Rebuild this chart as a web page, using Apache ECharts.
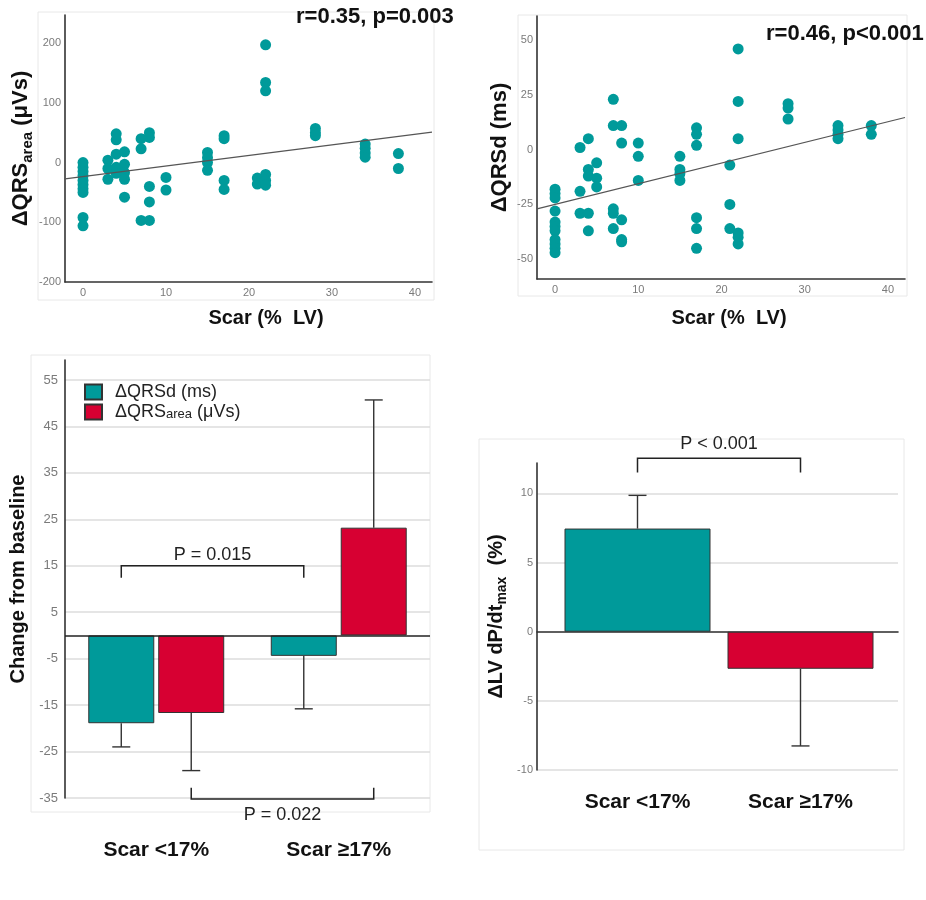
<!DOCTYPE html>
<html>
<head>
<meta charset="utf-8">
<style>
  html, body { margin: 0; padding: 0; background: #fff; }
  #chart { width: 926px; height: 900px; }
</style>
<script src="https://cdn.jsdelivr.net/npm/echarts@6.0.0/dist/echarts.min.js"></script>
</head>
<body>
<div id="chart"></div>
<script>
// ---- scatter: scar burden vs change in QRS area ----
const areaScar  = [0,0,0,0,0,0,0,0,0,0, 3,3,3, 4,4,4,4,4, 5,5,5,5,5, 7,7,7, 8,8,8,8,8, 10,10, 15,15,15,15, 17,17,17,17, 21,21, 22,22,22,22,22,22, 28,28,28, 34,34,34,34, 38,38];
const areaDelta = [0,-8,-15,-22,-30,-37,-44,-50,-92,-106, 4,-10,-28, 48,38,14,-8,-18, 18,-3,-17,-28,-58, 40,23,-97, 50,42,-40,-66,-97, -25,-46, 17,8,0,-13, 45,40,-30,-45, -26,-36, 197,134,120,-20,-30,-38, 57,50,45, 31,24,16,9, 15,-10];
const areaFit   = [[-2.17, -27.5], [42.05, 51]];

// ---- scatter: scar burden vs change in QRS duration ----
const durScar  = [0,0,0,0,0,0,0,0,0,0,0, 3,3,3, 4,4,4,4,4, 5,5,5, 7,7,7,7,7, 8,8,8,8,8, 10,10,10, 15,15,15,15, 17,17,17,17,17,17, 21,21,21, 22,22,22,22,22,22, 28,28,28, 34,34,34,34, 38,38];
const durDelta = [-18,-20,-22,-28,-33,-35,-37,-41,-43,-45,-47, 1,-19,-29, 5,-9,-12,-29,-37, -6,-13,-17, 23,11,-27,-29,-36, 11,3,-32,-41,-42, 3,-3,-14, -3,-9,-11,-14, 10,7,2,-31,-36,-45, -7,-25,-36, 46,22,5,-38,-40,-43, 21,19,14, 11,9,7,5, 11,7];
const durFit   = [[-2.17, -27], [42.05, 14.7]];

const statTexts = ['r=0.35, p=0.003', 'r=0.46, p<0.001'];

// ---- grouped bars: change from baseline ----
const groups    = ['Scar <17%', 'Scar \u226517%'];
const qrsdMean  = [-18.9, -4.4];
const qrsdErr   = [-24.0, -15.8];
const areaMean  = [-16.7, 23.2];
const areaErr   = [-29.1, 50.7];
// bracket rows: [from group, to group, slot (-1 teal / 1 red), level, tip, text level]
const groupBrackets = [[0, 1, -1, 15, 12.4, 17.3], [0, 1, 1, -35.2, -32.8, -38.6]];
const groupBracketText = ['P = 0.015', 'P = 0.022'];

// ---- bars: change in LV dP/dt max ----
const dpdtMean = [7.46, -2.68];
const dpdtErr  = [9.86, -8.26];
const dpdtBrackets = [[0, 1, 0, 12.54, 11.52, 13.55]];
const dpdtBracketText = ['P < 0.001'];

const TEAL = '#009a9a';
const RED = '#d70032';
const INK = '#333';
const FONT = '"Liberation Sans", Arial, sans-serif';
const GREY = '#7a7a7a';

const BAR_W = 66, BAR_GAP = 0.06;
const SLOT = BAR_W * (1 + BAR_GAP) / 2;

function errorBars(shift) {
  return function (params, api) {
    const base = api.coord([api.value(0), api.value(1)]);
    const end = api.coord([api.value(0), api.value(2)]);
    const x = base[0] + shift;
    const st = { stroke: INK, lineWidth: 1.4 };
    return { type: 'group', children: [
      { type: 'line', shape: { x1: x, y1: base[1], x2: x, y2: end[1] }, style: st },
      { type: 'line', shape: { x1: x - 9, y1: end[1], x2: x + 9, y2: end[1] }, style: st }
    ]};
  };
}

function brackets(slot, texts, fontSize) {
  return function (params, api) {
    const s = api.value(2) * slot;
    const xa = api.coord([api.value(0), 0])[0] + s;
    const xb = api.coord([api.value(1), 0])[0] + s;
    const yl = api.coord([0, api.value(3)])[1];
    const yt = api.coord([0, api.value(4)])[1];
    const ytx = api.coord([0, api.value(5)])[1];
    return { type: 'group', children: [
      { type: 'polyline', shape: { points: [[xa, yt], [xa, yl], [xb, yl], [xb, yt]] },
        style: { stroke: '#222', lineWidth: 1.5, fill: null } },
      { type: 'text', x: (xa + xb) / 2, y: ytx,
        style: { text: texts[params.dataIndex], x: 0, y: 0, align: 'center', verticalAlign: 'middle',
                 fill: '#222', font: fontSize + 'px ' + FONT } }
    ]};
  };
}

const zip = (xs, ys) => xs.map((x, i) => [x, ys[i]]);

const axisLineDark = { show: true, onZero: false, lineStyle: { color: INK, width: 1.6 } };
const subRich = (size) => ({ sub: { fontSize: size, fontWeight: 'bold', fontFamily: FONT, color: '#111', verticalAlign: 'bottom', lineHeight: 14 } });

const chart = echarts.init(document.getElementById('chart'), null, { renderer: 'canvas' });

const option = {
  animation: false,
  backgroundColor: '#fff',
  textStyle: { fontFamily: FONT },
  title: [
    { text: statTexts[0], left: 296, top: 6, padding: 0,
      textStyle: { fontSize: 22, fontWeight: 'bold', color: '#111', fontFamily: FONT } },
    { text: statTexts[1], left: 766, top: 23, padding: 0,
      textStyle: { fontSize: 22, fontWeight: 'bold', color: '#111', fontFamily: FONT } }
  ],
  graphic: [
    { type: 'rect', shape: { x: 38, y: 12, width: 396, height: 288 }, style: { fill: null, stroke: '#e8e8e8', lineWidth: 1 }, silent: true },
    { type: 'rect', shape: { x: 518, y: 15, width: 389, height: 281 }, style: { fill: null, stroke: '#e8e8e8', lineWidth: 1 }, silent: true },
    { type: 'rect', shape: { x: 31, y: 355, width: 399, height: 457 }, style: { fill: null, stroke: '#e8e8e8', lineWidth: 1 }, silent: true },
    { type: 'rect', shape: { x: 479, y: 439, width: 425, height: 411 }, style: { fill: null, stroke: '#e8e8e8', lineWidth: 1 }, silent: true }
  ],
  legend: {
    data: ['\u0394QRSd (ms)', '\u0394QRSarea (\u03bcVs)'],
    orient: 'vertical', left: 84, top: 383, padding: 0,
    itemWidth: 17, itemHeight: 15, itemGap: 2, icon: 'rect',
    formatter: (n) => n.replace('area', '{sub|area}'),
    textStyle: { fontSize: 18, color: '#222', fontFamily: FONT, padding: [0, 0, 0, 8],
      rich: { sub: { fontSize: 13, fontFamily: FONT, color: '#222', verticalAlign: 'bottom', lineHeight: 12 } } }
  },
  grid: [
    { left: 65, top: 15, width: 367, height: 267 },   // scatter: QRS area
    { left: 537, top: 16, width: 368, height: 263 },  // scatter: QRS duration
    { left: 537, top: 40, width: 368, height: 219 },  // tick labels for QRS duration axis
    { left: 65, top: 360, width: 365, height: 438 },  // grouped bars
    { left: 537, top: 463, width: 361, height: 307 }, // dP/dt frame: value axis, gridlines, zero line
    { left: 556, top: 463, width: 326, height: 307 }  // dP/dt bars
  ],
  xAxis: [
    { gridIndex: 0, type: 'value', min: -2.17, max: 42.05,
      axisLine: axisLineDark, axisTick: { show: false }, splitLine: { show: false },
      axisLabel: { color: GREY, fontSize: 11, margin: 5, showMinLabel: false, showMaxLabel: false },
      name: 'Scar (%  LV)', nameLocation: 'middle', nameGap: 26,
      nameTextStyle: { fontSize: 20, fontWeight: 'bold', color: '#111', padding: [0, 0, 0, 35] } },
    { gridIndex: 1, type: 'value', min: -2.17, max: 42.05,
      axisLine: axisLineDark, axisTick: { show: false }, splitLine: { show: false },
      axisLabel: { color: GREY, fontSize: 11, margin: 5, showMinLabel: false, showMaxLabel: false },
      name: 'Scar (%  LV)', nameLocation: 'middle', nameGap: 29,
      nameTextStyle: { fontSize: 20, fontWeight: 'bold', color: '#111', padding: [0, 0, 0, 16] } },
    { gridIndex: 2, type: 'value', min: -2.17, max: 42.05, show: false },
    { gridIndex: 3, type: 'category', data: groups,
      axisLine: { show: false, onZero: false }, axisTick: { show: false },
      axisLabel: { fontSize: 21, fontWeight: 'bold', color: '#111', margin: 42 } },
    { gridIndex: 4, type: 'category', data: ['', ''],
      axisLine: { show: true, onZero: true, lineStyle: { color: INK, width: 1.6 } },
      axisTick: { show: false }, axisLabel: { show: false } },
    { gridIndex: 5, type: 'category', data: groups,
      axisLine: { show: false, onZero: false }, axisTick: { show: false },
      axisLabel: { fontSize: 21, fontWeight: 'bold', color: '#111', margin: 22 } }
  ],
  yAxis: [
    { gridIndex: 0, type: 'value', min: -200, max: 247, interval: 100,
      axisLine: axisLineDark, axisTick: { show: false }, splitLine: { show: false },
      axisLabel: { color: GREY, fontSize: 11, margin: 4, showMaxLabel: false },
      name: '\u0394QRS{sub|area} (\u03bcVs)', nameLocation: 'middle', nameRotate: 90, nameGap: 28,
      nameTextStyle: { fontSize: 22, fontWeight: 'bold', color: '#111', lineHeight: 28, rich: subRich(15) } },
    { gridIndex: 1, type: 'value', min: -59, max: 61,
      axisLine: axisLineDark, axisTick: { show: false }, splitLine: { show: false },
      axisLabel: { show: false },
      name: '\u0394QRSd (ms)', nameLocation: 'middle', nameRotate: 90, nameGap: 26,
      nameTextStyle: { fontSize: 22, fontWeight: 'bold', color: '#111' } },
    { gridIndex: 2, type: 'value', min: -50, max: 50, interval: 25,
      axisLine: { show: false }, axisTick: { show: false }, splitLine: { show: false },
      axisLabel: { color: GREY, fontSize: 11, margin: 4 } },
    { gridIndex: 3, type: 'value', min: -35, max: 59.3, interval: 10,
      axisLine: { show: true, lineStyle: { color: INK, width: 1.6 } }, axisTick: { show: false },
      splitLine: { show: true, showMaxLine: false, lineStyle: { color: '#dcdcdc', width: 1.5 } },
      axisLabel: { color: GREY, fontSize: 13, margin: 7, showMaxLabel: false },
      name: 'Change from baseline', nameLocation: 'middle', nameRotate: 90, nameGap: 37,
      nameTextStyle: { fontSize: 20, fontWeight: 'bold', color: '#111' } },
    { gridIndex: 4, type: 'value', min: -10, max: 12.2, interval: 5,
      axisLine: { show: true, lineStyle: { color: INK, width: 1.6 } }, axisTick: { show: false },
      splitLine: { show: true, showMaxLine: false, lineStyle: { color: '#dcdcdc', width: 1.5 } },
      axisLabel: { color: GREY, fontSize: 11, margin: 4, showMaxLabel: false },
      name: '\u0394LV dP/dt{sub|max}  (%)', nameLocation: 'middle', nameRotate: 90, nameGap: 28,
      nameTextStyle: { fontSize: 20, fontWeight: 'bold', color: '#111', lineHeight: 26, rich: subRich(14) } },
    { gridIndex: 5, type: 'value', min: -10, max: 12.2, show: false }
  ],
  series: [
    { type: 'scatter', xAxisIndex: 0, yAxisIndex: 0, data: zip(areaScar, areaDelta),
      symbolSize: 11, itemStyle: { color: TEAL, opacity: 1 }, z: 2 },
    { type: 'line', xAxisIndex: 0, yAxisIndex: 0, data: areaFit, symbol: 'none',
      lineStyle: { color: '#555', width: 1.2 }, z: 3 },
    { type: 'scatter', xAxisIndex: 1, yAxisIndex: 1, data: zip(durScar, durDelta),
      symbolSize: 11, itemStyle: { color: TEAL, opacity: 1 }, z: 2 },
    { type: 'line', xAxisIndex: 1, yAxisIndex: 1, data: durFit, symbol: 'none',
      lineStyle: { color: '#555', width: 1.2 }, z: 3 },

    { name: '\u0394QRSd (ms)', type: 'bar', xAxisIndex: 3, yAxisIndex: 3, data: qrsdMean,
      barWidth: BAR_W, barGap: (BAR_GAP * 100) + '%',
      itemStyle: { color: TEAL, borderColor: INK, borderWidth: 1 },
      markLine: { silent: true, symbol: ['none', 'none'], label: { show: false },
        lineStyle: { color: '#222', width: 1.6, type: 'solid' }, data: [{ yAxis: 0 }] } },
    { name: '\u0394QRSarea (\u03bcVs)', type: 'bar', xAxisIndex: 3, yAxisIndex: 3, data: areaMean,
      barWidth: BAR_W, barGap: (BAR_GAP * 100) + '%',
      itemStyle: { color: RED, borderColor: INK, borderWidth: 1 } },
    { type: 'custom', xAxisIndex: 3, yAxisIndex: 3, z: 5,
      data: qrsdMean.map((m, i) => [i, m, qrsdErr[i]]), encode: { x: 0, y: [1, 2] },
      renderItem: errorBars(-SLOT) },
    { type: 'custom', xAxisIndex: 3, yAxisIndex: 3, z: 5,
      data: areaMean.map((m, i) => [i, m, areaErr[i]]), encode: { x: 0, y: [1, 2] },
      renderItem: errorBars(SLOT) },
    { type: 'custom', xAxisIndex: 3, yAxisIndex: 3, z: 6, clip: false,
      data: groupBrackets, encode: { x: 0, y: 3 },
      renderItem: brackets(SLOT, groupBracketText, 18) },

    { type: 'bar', xAxisIndex: 5, yAxisIndex: 5, barWidth: 146,
      data: dpdtMean.map((v, i) => ({ value: v, itemStyle: { color: i === 0 ? TEAL : RED } })),
      itemStyle: { borderColor: INK, borderWidth: 1 } },
    { type: 'custom', xAxisIndex: 5, yAxisIndex: 5, z: 5,
      data: dpdtMean.map((m, i) => [i, m, dpdtErr[i]]), encode: { x: 0, y: [1, 2] },
      renderItem: errorBars(0) },
    { type: 'custom', xAxisIndex: 5, yAxisIndex: 5, z: 6, clip: false,
      data: dpdtBrackets, encode: { x: 0, y: 3 },
      renderItem: brackets(0, dpdtBracketText, 18) }
  ]
};

chart.setOption(option);
</script>
</body>
</html>
